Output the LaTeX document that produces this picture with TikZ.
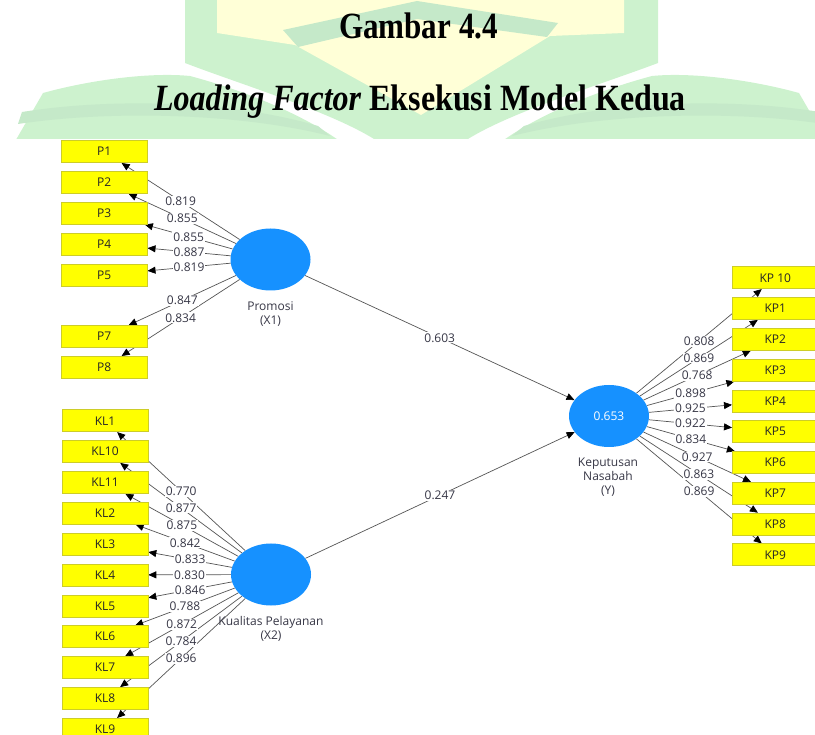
\documentclass[tikz,border=0pt]{standalone}
\usepackage{fontspec}
\usepackage{graphicx}
\setmainfont{Liberation Serif}
\newfontfamily\diagfont{Open Sans}
\usetikzlibrary{shapes.geometric,arrows.meta}
\pgfdeclarelayer{wm}
\pgfdeclarelayer{edges}
\pgfsetlayers{wm,edges,main}

\definecolor{wmgreen}{RGB}{205,242,206}
\definecolor{wmband}{RGB}{197,233,201}
\definecolor{wmyellow}{RGB}{255,255,215}
\definecolor{boxfill}{RGB}{255,255,0}
\definecolor{boxedge}{RGB}{205,205,40}
\definecolor{lvblue}{RGB}{22,145,255}
\definecolor{edgegray}{RGB}{85,85,85}
\definecolor{valtext}{RGB}{55,55,70}

\begin{document}
\begin{tikzpicture}[x=1pt,y=-1pt,
  ind/.style={draw=boxedge, line width=0.6pt, fill=boxfill,
    minimum width=86pt, minimum height=22pt, inner sep=0pt,
    font=\diagfont\fontsize{12}{14}\selectfont, text=black!85},
  lv/.style={ellipse, fill=lvblue, minimum width=80pt, minimum height=62pt,
    inner sep=0pt, font=\diagfont\fontsize{12}{14}\selectfont, text=white},
  lvname/.style={align=center, font=\diagfont\fontsize{12}{14}\selectfont, text=valtext},
  link/.style={draw=edgegray, line width=0.7pt,
    -{Triangle[length=8pt,width=7pt,color=black]}},
  val/.style={fill=white, inner sep=1pt,
    font=\diagfont\fontsize{12}{14}\selectfont, text=valtext},
  ttl/.style={anchor=base, font=\fontsize{37}{40}\selectfont\bfseries},
]
\useasboundingbox (0,0) rectangle (815,735);

% ---- logo watermark behind the heading ----
\begin{pgfonlayer}{wm}
  % left page
  \fill[wmgreen] (13,145) -- (43,93) .. controls (90,80) and (150,72) .. (190,76)
    .. controls (250,92) and (310,118) .. (345,145) -- cycle;
  \fill[wmband] (22,112) .. controls (110,98) and (230,100) .. (318,126)
    -- (330,136) .. controls (240,113) and (110,110) .. (18,124) -- cycle;
  % right page
  \fill[wmgreen] (829,145) -- (799,93) .. controls (752,80) and (692,72) .. (652,76)
    .. controls (592,92) and (532,118) .. (497,145) -- cycle;
  \fill[wmband] (820,112) .. controls (732,98) and (612,100) .. (524,126)
    -- (512,136) .. controls (602,113) and (732,110) .. (824,124) -- cycle;
  % central frame
  \fill[wmgreen] (185,0) -- (658,0) -- (658,63)
    .. controls (600,85) and (500,115) .. (459,145) -- (383,145)
    .. controls (342,115) and (242,85) .. (185,63) -- cycle;
  % shield
  \fill[wmyellow] (217,0) -- (624,0) -- (624,33) -- (550,36) -- (421,115)
    -- (295,45) -- (217,33) -- cycle;
  % chevron
  \fill[wmband] (283,30) -- (417,1) -- (558,23) -- (547,37) -- (417,19)
    -- (298,47) -- cycle;
  % diagram canvas
  \fill[white] (0,139.5) rectangle (815,740);
\end{pgfonlayer}

% ---- heading ----
\node[ttl] (title1) at (418.5,38.5) {\scalebox{0.84}[1]{Gambar 4.4}};
\node[ttl] (title2) at (420,111) {\scalebox{0.865}[1]{\textit{Loading Factor} Eksekusi Model Kedua}};

% ---- latent variables ----
\node[lv] (X1) at (270.5,259.5) {};
\node[lv] (X2) at (271,574.5) {};
\node[lv] (Y) at (609,416) {0.653};
\node[lvname] (X1name) at (270.5,314) {Promosi\\(X1)};
\node[lvname] (X2name) at (271,629) {Kualitas Pelayanan\\(X2)};
\node[lvname] (Yname) at (608,477) {Keputusan\\Nasabah\\(Y)};

% ---- indicators ----
\foreach \n/\yy in {P1/151.7,P2/182.5,P3/213.3,P4/244.1,P5/274.9,P7/336.5,P8/367.3}
  \node[ind] (\n) at (104.2,\yy) {\n};
\foreach \n/\yy in {KL1/420.8,KL10/451.6,KL11/482.5,KL2/513.3,KL3/544.2,KL4/575.0,
    KL5/605.9,KL6/636.7,KL7/667.6,KL8/698.4,KL9/729.3}
  \node[ind] (\n) at (105,\yy) {\n};
\node[ind] (KP10) at (775.3,277.8) {KP 10};
\foreach \n/\yy in {KP1/308.6,KP2/339.4,KP3/370.1,KP4/400.9,KP5/431.7,KP6/462.5,
    KP7/493.3,KP8/524.0,KP9/554.8}
  \node[ind] (\n) at (775.3,\yy) {\n};

% ---- connectors and their values ----
\begin{pgfonlayer}{edges}
  \foreach \t in {P1,P2,P3,P4,P5,P7,P8} \draw[link] (X1) -- (\t);
  \foreach \t in {KL1,KL10,KL11,KL2,KL3,KL4,KL5,KL6,KL7,KL8,KL9} \draw[link] (X2) -- (\t);
  \foreach \t in {KP10,KP1,KP2,KP3,KP4,KP5,KP6,KP7,KP8,KP9} \draw[link] (Y) -- (\t);
  \draw[link] (X1) -- (Y);
  \draw[link] (X2) -- (Y);

  \foreach \t/\v in {P1/0.819,P2/0.855,P3/0.855,P4/0.887,P5/0.819,P7/0.847,P8/0.834}
    \path (X1) -- node[val] (v-\t) {\v} (\t);
  \foreach \t/\v in {KL1/0.770,KL10/0.877,KL11/0.875,KL2/0.842,KL3/0.833,KL4/0.830,
      KL5/0.846,KL6/0.788,KL7/0.872,KL8/0.784,KL9/0.896}
    \path (X2) -- node[val] (v-\t) {\v} (\t);
  \foreach \t/\v in {KP10/0.808,KP1/0.869,KP2/0.768,KP3/0.898,KP4/0.925,KP5/0.922,
      KP6/0.834,KP7/0.927,KP8/0.863,KP9/0.869}
    \path (Y) -- node[val] (v-\t) {\v} (\t);
  \path (X1) -- node[val] (v-X1Y) {0.603} (Y);
  \path (X2) -- node[val] (v-X2Y) {0.247} (Y);
\end{pgfonlayer}
\end{tikzpicture}
\end{document}
